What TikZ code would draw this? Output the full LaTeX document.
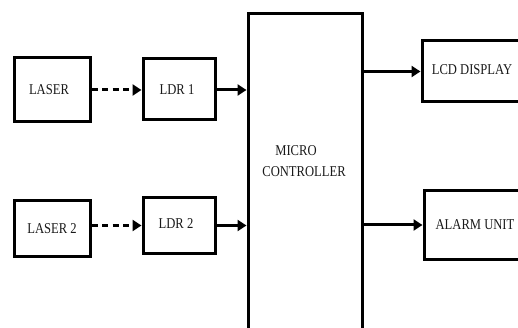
\documentclass[tikz,border=0pt]{standalone}
\usepackage{fontspec}
\setmainfont{Liberation Serif}
\usepackage{graphicx}
\usetikzlibrary{arrows.meta}
\newcommand\sqz[1]{\scalebox{0.84}[1]{#1}}
\begin{document}
\begin{tikzpicture}[x=1pt,y=-1pt,
  blk/.style={draw, line width=3pt, rectangle, inner sep=0pt,
    font=\fontsize{15}{17}\selectfont, text=black!90},
  conn/.style={line width=3pt, -{Triangle[length=9pt,width=11pt]}},
  dconn/.style={conn, dash pattern=on 6pt off 4.5pt},
  lbl/.style={font=\fontsize{15}{21}\selectfont, text=black!90, align=center, inner sep=0pt}]
\useasboundingbox (0,0) rectangle (518,328);
\clip (0,0) rectangle (518,328);
\node[blk, minimum width=76pt, minimum height=64pt] (laser) at (52,90) {\sqz{LASER}\hspace*{6pt}};
\node[blk, minimum width=72pt, minimum height=61pt] (ldr1) at (179,89.5) {\sqz{LDR 1}\hspace*{4pt}};
\node[blk, minimum width=76pt, minimum height=55pt] (laser2) at (52,228.5) {\sqz{LASER 2}};
\node[blk, minimum width=72pt, minimum height=55pt] (ldr2) at (179,225.5) {\raisebox{3pt}{\sqz{LDR 2}\hspace*{6pt}}};
\node[blk, minimum width=114pt, minimum height=331pt] (mc) at (305,179.5) {};
\node[lbl] (mctext) at (304,161) {\sqz{MICRO}\hspace*{16pt}\\\sqz{CONTROLLER}};
\node[blk, minimum width=118pt, minimum height=61pt] (lcd) at (481,71.5) {\raisebox{4pt}{\sqz{LCD DISPLAY}}\hspace*{18pt}};
\node[blk, minimum width=116pt, minimum height=68pt] (alarm) at (482,225) {\sqz{ALARM UNIT}\hspace*{14pt}};
\draw[dconn] (laser.east) -- (ldr1.west |- laser.east);
\draw[conn] (ldr1.east |- laser.east) -- (mc.west |- laser.east);
\draw[dconn] (laser2.east |- ldr2.west) -- (ldr2.west);
\draw[conn] (ldr2.east) -- (mc.west |- ldr2.east);
\draw[conn] (mc.east |- lcd.west) -- (lcd.west);
\draw[conn] (mc.east |- alarm.west) -- (alarm.west);
\end{tikzpicture}
\end{document}
